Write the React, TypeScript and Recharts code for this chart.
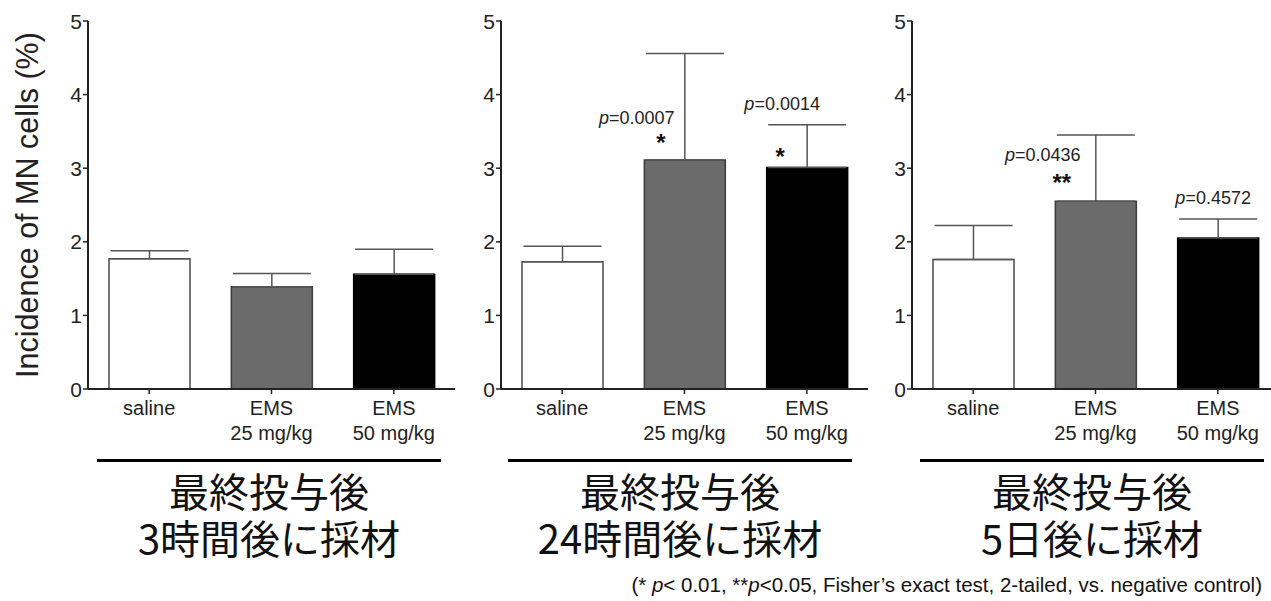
import { BarChart, Bar, XAxis, YAxis, ErrorBar, Cell, LabelList } from 'recharts'

// categories and tick text
const categories = ['saline', 'EMS25', 'EMS50']
const categoryLines: Record<string, string[]> = {
  saline: ['saline'],
  EMS25: ['EMS', '25 mg/kg'],
  EMS50: ['EMS', '50 mg/kg']
}
const yTicks = [0, 1, 2, 3, 4, 5]

// 3 h after last dose
const mean3h = [1.77, 1.39, 1.56]
const sd3h = [0.11, 0.18, 0.34]
// 24 h after last dose
const mean24h = [1.73, 3.11, 3.01]
const sd24h = [0.21, 1.45, 0.58]
const p24h = ['', '0.0007', '0.0014']
const stars24h = ['', '*', '*']
// 5 days after last dose
const mean5d = [1.76, 2.55, 2.05]
const sd5d = [0.46, 0.9, 0.26]
const p5d = ['', '0.0436', '0.4572']
const stars5d = ['', '**', '']

const titles = [
  ['最終投与後', '3時間後に採材'],
  ['最終投与後', '24時間後に採材'],
  ['最終投与後', '5日後に採材']
]

const fills = ['#ffffff', '#6b6b6b', '#000000']
const strokes = ['#4a4a4a', '#3c3c3c', '#000000']
const SANS = '"Liberation Sans", Arial, Helvetica, sans-serif'
const INK = '#222222'

type Offset = { dx: number; dy: number }

function buildRows(mean: number[], sd: number[], p: string[] = [], stars: string[] = []) {
  return categories.map((cat, i) => ({
    cat,
    mean: mean[i],
    err: [0, sd[i]],
    p: p[i] || '',
    star: stars[i] || ''
  }))
}

function CategoryTick(props: any) {
  const { x, y, payload } = props
  const lines = categoryLines[payload.value] || [payload.value]
  return (
    <g>
      {lines.map((t, i) => (
        <text
          key={i}
          x={x}
          y={y + 19 + i * 25}
          textAnchor="middle"
          fontSize={20}
          fontFamily={SANS}
          fill={INK}
        >
          {t}
        </text>
      ))}
    </g>
  )
}

function ValueTick(props: any) {
  const { x, y, payload } = props
  return (
    <text
      x={x}
      y={y + 7.5}
      textAnchor="end"
      fontSize={21}
      fontFamily={SANS}
      fill={INK}
    >
      {payload.value}
    </text>
  )
}

const pLabel = (offsets: Offset[]) => (props: any) => {
  const { x, y, width, index, value } = props
  if (!value) return null
  const o = offsets[index]
  return (
    <text
      x={Number(x) + Number(width) / 2 + o.dx}
      y={Number(y) + o.dy}
      textAnchor="middle"
      fontSize={18}
      fontFamily={SANS}
      fill={INK}
    >
      <tspan fontStyle="italic">p</tspan>={value}
    </text>
  )
}

const starLabel = (offsets: Offset[]) => (props: any) => {
  const { x, y, width, index, value } = props
  if (!value) return null
  const o = offsets[index]
  return (
    <text
      x={Number(x) + Number(width) / 2 + o.dx}
      y={Number(y) + o.dy}
      textAnchor="middle"
      fontSize={24}
      fontWeight="bold"
      fontFamily={SANS}
      fill="#111"
    >
      {value}
    </text>
  )
}

interface PanelProps {
  left: number
  axisWidth: number
  rows: ReturnType<typeof buildRows>
  yLabel?: boolean
  pOffsets?: Offset[]
  starOffsets?: Offset[]
}

function Panel({ left, axisWidth, rows, yLabel, pOffsets, starOffsets }: PanelProps) {
  return (
    <div style={{ position: 'absolute', left, top: 0 }}>
      <BarChart
        width={axisWidth + 367}
        height={460}
        data={rows}
        margin={{ top: 21, right: 0, bottom: 0, left: 0 }}
        barSize={81}
      >
        <XAxis
          dataKey="cat"
          height={71}
          interval={0}
          tick={<CategoryTick />}
          tickSize={5}
          tickMargin={2}
          axisLine={{ stroke: INK, strokeWidth: 2 }}
          tickLine={{ stroke: INK, strokeWidth: 1.5 }}
        />
        <YAxis
          width={axisWidth}
          domain={[0, 5]}
          ticks={yTicks}
          interval={0}
          tickSize={5}
          tickMargin={1}
          axisLine={{ stroke: INK, strokeWidth: 2 }}
          tickLine={{ stroke: INK, strokeWidth: 1.5 }}
          tick={<ValueTick />}
          label={
            yLabel
              ? {
                  value: 'Incidence of MN cells (%)',
                  angle: -90,
                  position: 'center',
                  dx: -17,
                  style: { fontSize: 30.5, fill: INK, fontFamily: SANS }
                }
              : undefined
          }
        />
        <Bar dataKey="mean" isAnimationActive={false} strokeWidth={1.5}>
          {rows.map((_, i) => (
            <Cell key={i} fill={fills[i]} stroke={strokes[i]} />
          ))}
          <ErrorBar
            dataKey="err"
            direction="y"
            width={39}
            stroke="#555"
            strokeWidth={1.5}
            isAnimationActive={false}
          />
          {pOffsets && <LabelList dataKey="p" content={pLabel(pOffsets)} />}
          {starOffsets && <LabelList dataKey="star" content={starLabel(starOffsets)} />}
        </Bar>
      </BarChart>
    </div>
  )
}

function Title({ center, lines }: { center: number; lines: string[] }) {
  return (
    <>
      <div
        style={{
          position: 'absolute',
          left: center - 172,
          width: 344,
          top: 459,
          height: 3,
          background: '#000'
        }}
      />
      {lines.map((l, i) => (
        <div
          key={i}
          style={{
            position: 'absolute',
            left: center - 200,
            width: 400,
            top: 470 + i * 47,
            height: 40,
            textAlign: 'center',
            fontFamily: '"Noto Sans CJK JP", sans-serif',
            fontSize: 40,
            fontWeight: 400,
            lineHeight: '40px',
            color: '#111'
          }}
        >
          {l}
        </div>
      ))}
    </>
  )
}

export default function App() {
  return (
    <div
      style={{
        position: 'absolute',
        left: 0,
        top: 0,
        width: 1271,
        height: 601,
        overflow: 'hidden',
        background: '#fff'
      }}
    >
      <Panel left={0} axisWidth={88} rows={buildRows(mean3h, sd3h)} yLabel />
      <Panel
        left={420}
        axisWidth={81}
        rows={buildRows(mean24h, sd24h, p24h, stars24h)}
        pOffsets={[{ dx: 0, dy: 0 }, { dx: -48, dy: -36 }, { dx: -25, dy: -57 }]}
        starOffsets={[{ dx: 0, dy: 0 }, { dx: -24, dy: -9 }, { dx: -27, dy: -2 }]}
      />
      <Panel
        left={840}
        axisWidth={72}
        rows={buildRows(mean5d, sd5d, p5d, stars5d)}
        pOffsets={[{ dx: 0, dy: 0 }, { dx: -53, dy: -40 }, { dx: -5, dy: -34 }]}
        starOffsets={[{ dx: 0, dy: 0 }, { dx: -34, dy: -10 }, { dx: 0, dy: 0 }]}
      />
      <Title center={269} lines={titles[0]} />
      <Title center={680} lines={titles[1]} />
      <Title center={1092} lines={titles[2]} />
      <div
        style={{
          position: 'absolute',
          right: 9,
          top: 573,
          fontFamily: SANS,
          fontSize: 20.5,
          color: '#111',
          whiteSpace: 'nowrap'
        }}
      >
        (* <i>p</i>&lt; 0.01, **<i>p</i>&lt;0.05, Fisher’s exact test, 2-tailed, vs. negative control)
      </div>
    </div>
  )
}
